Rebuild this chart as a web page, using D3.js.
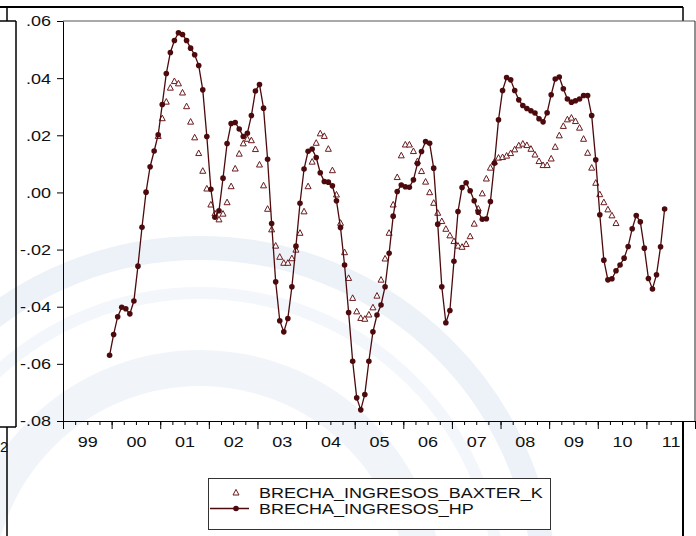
<!DOCTYPE html>
<html>
<head>
<meta charset="utf-8">
<script src="https://cdn.jsdelivr.net/npm/d3@7"></script>
<style>
  html, body { margin: 0; padding: 0; background: #fff; }
  svg { display: block; }
  text { font-family: "Liberation Sans", Arial, sans-serif; fill: #111; }
</style>
</head>
<body>
<svg id="chart" width="696" height="536"></svg>
<script>
// Monthly output-gap estimates (income gap), two filters
const hpStart = [1999, 12];   // first observation, Hodrick-Prescott
const bkStart = [2000, 12];   // first observation, Baxter-King

const hpValues = [
  -0.0570, -0.0497, -0.0435, -0.0402, -0.0407, -0.0425, -0.0380, -0.0258, -0.0122, 0.0001,
   0.0090,  0.0145,  0.0202,  0.0308,  0.0416,  0.0490,  0.0532,  0.0559,  0.0553, 0.0532,
   0.0505,  0.0482,  0.0444,  0.0359,  0.0196,  0.0011, -0.0087, -0.0064,  0.0050, 0.0171,
   0.0241,  0.0245,  0.0222,  0.0196,  0.0207,  0.0269,  0.0355,  0.0378,  0.0295, 0.0116,
  -0.0109, -0.0313, -0.0449, -0.0488, -0.0441, -0.0330, -0.0188, -0.0038,  0.0082, 0.0144,
   0.0152,  0.0122,  0.0069,  0.0038,  0.0036,  0.0023, -0.0029, -0.0123, -0.0254, -0.0420,
  -0.0591, -0.0719, -0.0761, -0.0707, -0.0591, -0.0488, -0.0429, -0.0394, -0.0330, -0.0213,
  -0.0083,  0.0003,  0.0026,  0.0020,  0.0018,  0.0044,  0.0101,  0.0143,  0.0178, 0.0172,
   0.0085, -0.0111, -0.0330, -0.0456, -0.0413, -0.0241, -0.0067,  0.0017,  0.0034, 0.0006,
  -0.0029, -0.0069, -0.0094, -0.0092, -0.0032,  0.0102,  0.0254,  0.0357,  0.0402, 0.0394,
   0.0357,  0.0324,  0.0304,  0.0294,  0.0286,  0.0278,  0.0258,  0.0247,  0.0279, 0.0342,
   0.0397,  0.0404,  0.0363,  0.0327,  0.0316,  0.0321,  0.0327,  0.0339,  0.0339, 0.0269,
   0.0114, -0.0078, -0.0237, -0.0306, -0.0302, -0.0274, -0.0254, -0.0230, -0.0189, -0.0127,
  -0.0081, -0.0103, -0.0195, -0.0301, -0.0338, -0.0288, -0.0190, -0.0058
];

const bkValues = [
   0.0196,  0.0258,  0.0316,  0.0365,  0.0388,  0.0380,  0.0348,  0.0300,  0.0246, 0.0191,
   0.0136,  0.0074,  0.0012, -0.0044, -0.0075, -0.0096, -0.0076, -0.0036,  0.0020, 0.0082,
   0.0134,  0.0170,  0.0186,  0.0181,  0.0150,  0.0096,  0.0023, -0.0059, -0.0131, -0.0188,
  -0.0227, -0.0248, -0.0248, -0.0232, -0.0202, -0.0143, -0.0068,  0.0020,  0.0106, 0.0172,
   0.0205,  0.0196,  0.0151,  0.0076, -0.0009, -0.0108, -0.0211, -0.0301, -0.0371, -0.0418,
  -0.0441, -0.0444, -0.0429, -0.0404, -0.0363, -0.0307, -0.0233, -0.0143, -0.0044, 0.0052,
   0.0128,  0.0166,  0.0166,  0.0143,  0.0108,  0.0073,  0.0036, -0.0001, -0.0038, -0.0073,
  -0.0102, -0.0129, -0.0152, -0.0172, -0.0188, -0.0192, -0.0182, -0.0155, -0.0111, -0.0058,
  -0.0005,  0.0047,  0.0085,  0.0106,  0.0120,  0.0122,  0.0127,  0.0136,  0.0149, 0.0163,
   0.0169,  0.0164,  0.0151,  0.0131,  0.0108,  0.0094,  0.0094,  0.0117,  0.0158, 0.0198,
   0.0231,  0.0254,  0.0260,  0.0248,  0.0225,  0.0186,  0.0137,  0.0085,  0.0032, -0.0008,
  -0.0036, -0.0061, -0.0082, -0.0109
];

const yTicks = [0.06, 0.04, 0.02, 0.00, -0.02, -0.04, -0.06, -0.08];
const yTickLabels = [".06", ".04", ".02", ".00", "-.02", "-.04", "-.06", "-.08"];
const yearLabels = ["99", "00", "01", "02", "03", "04", "05", "06", "07", "08", "09", "10", "11"];
const seriesNames = ["BRECHA_INGRESOS_BAXTER_K", "BRECHA_INGRESOS_HP"];

const maroon = "#4d0a0c";
const triColor = "#6a1a1e";
const stretch = 1.2;          // wide lettering

const svg = d3.select("#chart");

// ---- faint crest in the background ----
const crest = svg.append("g").attr("fill", "none");
crest.append("circle").attr("cx", 200).attr("cy", 593).attr("r", 345)
  .attr("stroke", "#edf2f8").attr("stroke-width", 24);
crest.append("circle").attr("cx", 200).attr("cy", 593).attr("r", 300)
  .attr("stroke", "#f3f6fa").attr("stroke-width", 12);
crest.append("circle").attr("cx", 200).attr("cy", 593).attr("r", 225)
  .attr("stroke", "#f1f5fa").attr("stroke-width", 36);

// ---- scales ----
const x = d3.scaleLinear().domain([1999, 2012]).range([63, 695]);
const y = d3.scaleLinear().domain([-0.08, 0.06]).range([421, 21]);

const toTime = (start, i) => start[0] + (start[1] - 1 + i + 0.5) / 12;
const hp = hpValues.map((v, i) => ({ t: toTime(hpStart, i), v }));
const bk = bkValues.map((v, i) => ({ t: toTime(bkStart, i), v }));

// ---- surrounding page frame pieces ----
const frame = svg.append("g").attr("stroke", "#000").attr("fill", "none");
frame.append("line").attr("x1", 0).attr("x2", 683).attr("y1", 7).attr("y2", 7).attr("stroke-width", 2);
frame.append("line").attr("x1", 7).attr("x2", 7).attr("y1", 7).attr("y2", 21).attr("stroke-width", 1.5);
frame.append("line").attr("x1", 683).attr("x2", 683).attr("y1", 7).attr("y2", 21).attr("stroke-width", 1.5);
frame.append("line").attr("x1", 0).attr("x2", 16).attr("y1", 21).attr("y2", 21).attr("stroke-width", 1.5);
frame.append("line").attr("x1", 16).attr("x2", 16).attr("y1", 21).attr("y2", 427).attr("stroke-width", 1.5);
frame.append("line").attr("x1", 0).attr("x2", 16).attr("y1", 427).attr("y2", 427).attr("stroke-width", 1.5);
frame.append("line").attr("x1", 7).attr("x2", 7).attr("y1", 427).attr("y2", 536).attr("stroke-width", 1.5);
frame.append("line").attr("x1", 683).attr("x2", 683).attr("y1", 421).attr("y2", 536).attr("stroke-width", 2);
svg.append("text").attr("font-size", 15)
  .attr("transform", `translate(0,452) scale(${stretch * 0.8},1)`).text("2");

// ---- plot box ----
svg.append("line").attr("x1", 63).attr("x2", 695).attr("y1", 21).attr("y2", 21)
  .attr("stroke", "#555").attr("stroke-width", 1.2);
svg.append("line").attr("x1", 695).attr("x2", 695).attr("y1", 21).attr("y2", 421)
  .attr("stroke", "#222").attr("stroke-width", 1);

// ---- y axis ----
const yAxis = svg.append("g").attr("transform", "translate(63,0)")
  .call(d3.axisLeft(y).tickValues(yTicks).tickSize(6).tickSizeOuter(0)
    .tickFormat((d, i) => yTickLabels[i]));
yAxis.select(".domain").attr("stroke", "#000");
yAxis.selectAll(".tick line").attr("stroke", "#000");
yAxis.selectAll(".tick text")
  .attr("x", -12 / stretch).attr("dy", "0.33em")
  .attr("font-size", 15).attr("font-family", "Liberation Sans, Arial, sans-serif")
  .attr("fill", "#111").attr("transform", `scale(${stretch},1)`);

// ---- x axis: quarterly minor ticks, yearly major ticks, centred year labels ----
const quarters = d3.range(1999, 2012.01, 0.25);
const years = d3.range(1999, 2013);
const mids = d3.range(1999.5, 2012, 1);

const xMinor = svg.append("g").attr("transform", "translate(0,421)")
  .call(d3.axisBottom(x).tickValues(quarters).tickSize(4).tickSizeOuter(0).tickFormat(""));
xMinor.select(".domain").attr("stroke", "#000");
xMinor.selectAll(".tick line").attr("stroke", "#000");

const xMajor = svg.append("g").attr("transform", "translate(0,421)")
  .call(d3.axisBottom(x).tickValues(years).tickSize(8).tickSizeOuter(0).tickFormat(""));
xMajor.select(".domain").remove();
xMajor.selectAll(".tick line").attr("stroke", "#000");

const xLab = svg.append("g").attr("transform", "translate(0,421)")
  .call(d3.axisBottom(x).tickValues(mids).tickSize(0).tickPadding(15)
    .tickFormat((d, i) => yearLabels[i]));
xLab.select(".domain").remove();
xLab.selectAll(".tick text")
  .attr("font-size", 15).attr("font-family", "Liberation Sans, Arial, sans-serif")
  .attr("fill", "#111").attr("transform", `scale(${stretch},1)`);

// ---- series ----
const triPath = "M0,-3.6L3,2L-3,2Z";

svg.append("g").selectAll("path").data(bk).join("path")
  .attr("d", triPath)
  .attr("transform", d => `translate(${x(d.t)},${y(d.v)})`)
  .attr("fill", "#fff").attr("stroke", triColor).attr("stroke-width", 1);

const line = d3.line().x(d => x(d.t)).y(d => y(d.v));
svg.append("path").datum(hp).attr("d", line)
  .attr("fill", "none").attr("stroke", maroon).attr("stroke-width", 1.3);
svg.append("g").selectAll("circle").data(hp).join("circle")
  .attr("cx", d => x(d.t)).attr("cy", d => y(d.v)).attr("r", 2.8)
  .attr("fill", maroon);

// ---- legend ----
const lg = svg.append("g");
lg.append("rect").attr("x", 208.5).attr("y", 478.5).attr("width", 342).attr("height", 51)
  .attr("fill", "#fff").attr("stroke", "#333").attr("stroke-width", 1);
lg.append("path").attr("d", triPath).attr("transform", "translate(236,493)")
  .attr("fill", "#fff").attr("stroke", triColor).attr("stroke-width", 1);
lg.append("line").attr("x1", 210).attr("x2", 249).attr("y1", 508.5).attr("y2", 508.5)
  .attr("stroke", maroon).attr("stroke-width", 1.3);
lg.append("circle").attr("cx", 236).attr("cy", 508.5).attr("r", 2.8).attr("fill", maroon);
lg.selectAll("text.name").data(seriesNames).join("text")
  .attr("class", "name")
  .attr("font-size", 15)
  .attr("transform", (d, i) => `translate(259,${497.5 + i * 16}) scale(${stretch},1)`)
  .text(d => d);
</script>
</body>
</html>
